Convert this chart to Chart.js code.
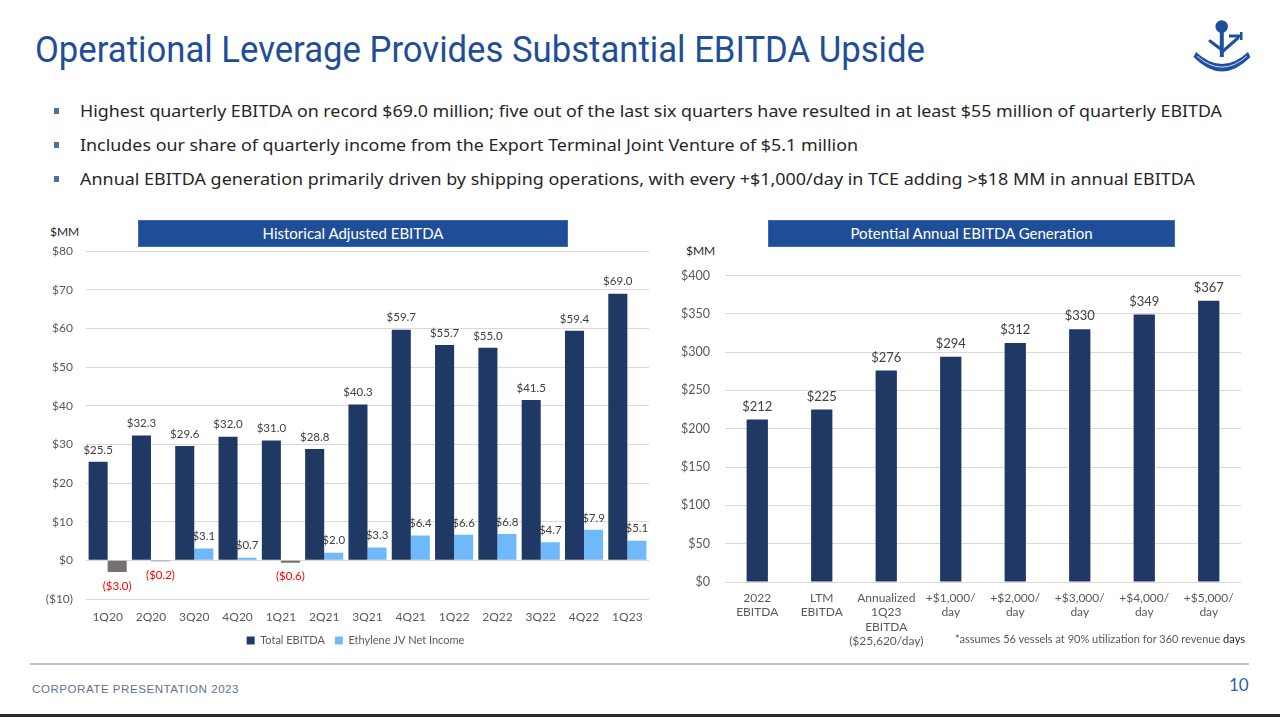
<!DOCTYPE html>
<html>
<head>
<meta charset="utf-8">
<script src="https://cdn.jsdelivr.net/npm/chart.js@4.4.0/dist/chart.umd.min.js"></script>
<style>
html,body{margin:0;padding:0;background:#fff;width:1280px;height:717px;overflow:hidden;}
.abs{position:absolute;white-space:nowrap;}
#title{left:35px;top:29px;font-family:Roboto,"Noto Sans",sans-serif;font-size:36px;line-height:42px;color:#1F4E99;transform-origin:left top;}
.bullet{left:80px;font-family:"Noto Sans","Open Sans",sans-serif;font-size:17px;line-height:24px;color:#262626;transform-origin:left top;}
.bmark{position:absolute;left:54px;width:5px;height:6px;background:#4F6FA8;}
.hdr{position:absolute;background:#1F4E99;color:#fff;font-family:Lato,sans-serif;font-size:15px;text-align:center;line-height:27px;height:27px;box-shadow:inset 0 0 0 1px #3B6CB8;}
.mm{font-family:Lato,sans-serif;font-size:12px;color:#262626;}
#footer{left:32px;top:683px;font-family:"Liberation Sans",sans-serif;font-size:11px;color:#5F7391;letter-spacing:0.5px;transform-origin:left top;}
#pnum{left:1229px;top:674px;font-family:Lato,sans-serif;font-size:17px;color:#2F5FA9;}
#note{left:955px;top:632px;font-family:Lato,sans-serif;font-size:11.5px;color:#595959;transform-origin:left top;}
</style>
</head>
<body>
<div id="title" class="abs">Operational Leverage Provides Substantial EBITDA Upside</div>

<svg class="abs" style="left:1180px;top:10px" width="90" height="70" viewBox="0 0 90 70">
  <g fill="#1E50A0" stroke="#1E50A0" stroke-linecap="round">
    <circle cx="41.7" cy="16.5" r="6.3" stroke="none"/>
    <rect x="39.8" y="21" width="4" height="26" stroke="none"/>
    <path d="M16 42 Q42 66 68 42 L70.5 47 Q42 76 13.5 47 Z" stroke="none"/>
    <path d="M17.5 46.5 Q42 68 66.5 46.5" fill="none" stroke="#FFFFFF" stroke-width="0.8"/>
    <path d="M42 42 L58 28" stroke-width="3" fill="none"/>
    <path d="M42 40 L30 31" stroke-width="3" fill="none"/>
    <rect x="49" y="24.5" width="13" height="3" stroke="none"/>
    <rect x="60" y="22" width="2.5" height="8" stroke="none"/>
  </g>
</svg>

<div class="bmark" style="top:108px"></div>
<div id="b1" class="abs bullet" style="top:99px">Highest quarterly EBITDA on record $69.0 million; five out of the last six quarters have resulted in at least $55 million of quarterly EBITDA</div>
<div class="bmark" style="top:142px"></div>
<div id="b2" class="abs bullet" style="top:133px">Includes our share of quarterly income from the Export Terminal Joint Venture of $5.1 million</div>
<div class="bmark" style="top:176px"></div>
<div id="b3" class="abs bullet" style="top:167px">Annual EBITDA generation primarily driven by shipping operations, with every +$1,000/day in TCE adding &gt;$18 MM in annual EBITDA</div>

<div class="hdr" style="left:138px;top:220px;width:430px;">Historical Adjusted EBITDA</div>
<div class="hdr" style="left:768px;top:220px;width:407px;">Potential Annual EBITDA Generation</div>
<div class="abs mm" style="left:50px;top:224px;">$MM</div>
<div class="abs mm" style="left:686px;top:243px;">$MM</div>

<div class="abs" style="left:40px;top:231px;width:620px;height:422px;"><canvas id="histChart"></canvas></div>
<div class="abs" style="left:660px;top:253px;width:620px;height:397px;"><canvas id="potChart"></canvas></div>

<div id="note" class="abs">*assumes 56 vessels at 90% utilization for 360 revenue <span style="color:#262626">days</span></div>

<div class="abs" style="left:30px;top:663px;width:1219px;height:2px;background:#BFBFBF;"></div>
<div id="footer" class="abs">CORPORATE PRESENTATION 2023</div>
<div id="pnum" class="abs">10</div>
<div class="abs" style="left:0;top:714px;width:1280px;height:3px;background:#2B2B2B;"></div>

<script>
// ---------- data ----------
const quarters = ['1Q20','2Q20','3Q20','4Q20','1Q21','2Q21','3Q21','4Q21','1Q22','2Q22','3Q22','4Q22','1Q23'];
const totalEbitda = [25.5, 32.3, 29.6, 32.0, 31.0, 28.8, 40.3, 59.7, 55.7, 55.0, 41.5, 59.4, 69.0];
const jvNetIncome = [-3.0, -0.2, 3.1, 0.7, -0.6, 2.0, 3.3, 6.4, 6.6, 6.8, 4.7, 7.9, 5.1];
const histSeriesNames = ['Total EBITDA', 'Ethylene JV Net Income'];
const histAxisMin = -10, histAxisMax = 80, histAxisStep = 10;

const potentialCategories = [
  ['2022','EBITDA'],
  ['LTM','EBITDA'],
  ['Annualized','1Q23','EBITDA','($25,620/day)'],
  ['+$1,000/','day'],
  ['+$2,000/','day'],
  ['+$3,000/','day'],
  ['+$4,000/','day'],
  ['+$5,000/','day']
];
const potentialValues = [212, 225, 276, 294, 312, 330, 349, 367];
const potAxisMin = 0, potAxisMax = 400, potAxisStep = 50;

// ---------- helpers ----------
function money(v, d){
  const s = '$' + Math.abs(v).toFixed(d);
  return v < 0 ? '(' + s + ')' : s;
}

function fitWidth(id, w){
  const el = document.getElementById(id);
  const cur = el.getBoundingClientRect().width;
  el.style.transform = 'scaleX(' + (w / cur) + ')';
}
fitWidth('title', 890);
fitWidth('b1', 1142);
fitWidth('b2', 778);
fitWidth('b3', 1115);
fitWidth('footer', 207);
fitWidth('note', 290);

const barLabels = {
  id: 'barLabels',
  afterDatasetsDraw(chart){
    const ctx = chart.ctx;
    chart.data.datasets.forEach((ds, i) => {
      const cfg = ds.valueLabels;
      if (!cfg) return;
      const meta = chart.getDatasetMeta(i);
      meta.data.forEach((el, j) => {
        const v = ds.data[j];
        ctx.save();
        ctx.font = cfg.font;
        ctx.textAlign = 'center';
        ctx.textBaseline = 'middle';
        ctx.fillStyle = v < 0 ? cfg.negColor : cfg.color;
        const y = v < 0 ? el.y + cfg.negOffset : el.y - cfg.offset;
        ctx.fillText(money(v, cfg.decimals), el.x, y);
        ctx.restore();
      });
    });
  }
};

// nudge the legend to where it sits on the slide
const legendShift = {
  id: 'legendShift',
  afterLayout(chart){
    const lg = chart.legend;
    if (lg) { lg.left += 11; lg.right += 11; lg.top += 3; lg.bottom += 3; }
  }
};

Chart.defaults.font.family = 'Lato, sans-serif';
Chart.defaults.color = '#595959';

const NAVY = '#203864';
const LIGHT = '#6FB9FB';
const GREY = '#767171';
const GRID = '#D9D9D9';
const seriesColors = [NAVY, LIGHT];

// ---------- left chart ----------
new Chart(document.getElementById('histChart'), {
  type: 'bar',
  data: {
    labels: quarters,
    datasets: [
      {
        label: histSeriesNames[0],
        data: totalEbitda,
        backgroundColor: NAVY,
        categoryPercentage: 0.88,
        barPercentage: 1.0,
        valueLabels: {font: '11.5px Lato', color: '#404040', negColor: '#FF0000', offset: 12, negOffset: 14, decimals: 1}
      },
      {
        label: histSeriesNames[1],
        data: jvNetIncome,
        backgroundColor: (c) => (c.type === 'data' && c.raw < 0) ? GREY : LIGHT,
        categoryPercentage: 0.88,
        barPercentage: 1.0,
        valueLabels: {font: '11.5px Lato', color: '#404040', negColor: '#FF0000', offset: 12, negOffset: 14, decimals: 1}
      }
    ]
  },
  options: {
    responsive: true,
    maintainAspectRatio: false,
    animation: false,
    layout: {padding: {top: 0, right: 11, bottom: 0, left: 0}},
    plugins: {
      legend: {
        position: 'bottom',
        labels: {
          boxWidth: 8, boxHeight: 8, padding: 10, font: {size: 11}, color: '#595959',
          generateLabels: (chart) => {
            const items = Chart.defaults.plugins.legend.labels.generateLabels(chart);
            items.forEach((it) => {
              it.fillStyle = seriesColors[it.datasetIndex];
              it.strokeStyle = seriesColors[it.datasetIndex];
              it.lineWidth = 0;
            });
            return items;
          }
        }
      },
      tooltip: {enabled: false}
    },
    scales: {
      x: {
        grid: {display: false, drawTicks: false},
        border: {display: false},
        ticks: {padding: 11, font: {size: 12}, color: '#595959', maxRotation: 0},
        afterFit: (s) => { s.height = 23; }
      },
      y: {
        min: histAxisMin, max: histAxisMax,
        grid: {color: GRID, drawTicks: false, lineWidth: 1},
        border: {display: false},
        ticks: {stepSize: histAxisStep, padding: 13, font: {size: 12}, color: '#595959', callback: (v) => money(v, 0)},
        afterFit: (s) => { s.width = 46; }
      }
    }
  },
  plugins: [barLabels, legendShift]
});

// ---------- right chart ----------
new Chart(document.getElementById('potChart'), {
  type: 'bar',
  data: {
    labels: potentialCategories,
    datasets: [{
      label: 'Potential Annual EBITDA',
      data: potentialValues,
      backgroundColor: NAVY,
      categoryPercentage: 1.0,
      barPercentage: 0.33,
      valueLabels: {font: '13px Lato', color: '#404040', negColor: '#FF0000', offset: 13, negOffset: 14, decimals: 0}
    }]
  },
  options: {
    responsive: true,
    maintainAspectRatio: false,
    animation: false,
    layout: {padding: {top: 0, right: 39, bottom: 0, left: 0}},
    plugins: {legend: {display: false}, tooltip: {enabled: false}},
    scales: {
      x: {
        grid: {display: false, drawTicks: false},
        border: {display: false},
        ticks: {padding: 9, font: {size: 12, lineHeight: 1.2}, color: '#595959', maxRotation: 0, autoSkip: false},
        afterFit: (s) => { s.height = 68; }
      },
      y: {
        min: potAxisMin, max: potAxisMax,
        grid: {color: GRID, drawTicks: false, lineWidth: 1},
        border: {display: false},
        ticks: {stepSize: potAxisStep, padding: 15, font: {size: 12.5}, color: '#595959', callback: (v) => money(v, 0)},
        afterFit: (s) => { s.width = 65; }
      }
    }
  },
  plugins: [barLabels]
});
</script>
</body>
</html>
